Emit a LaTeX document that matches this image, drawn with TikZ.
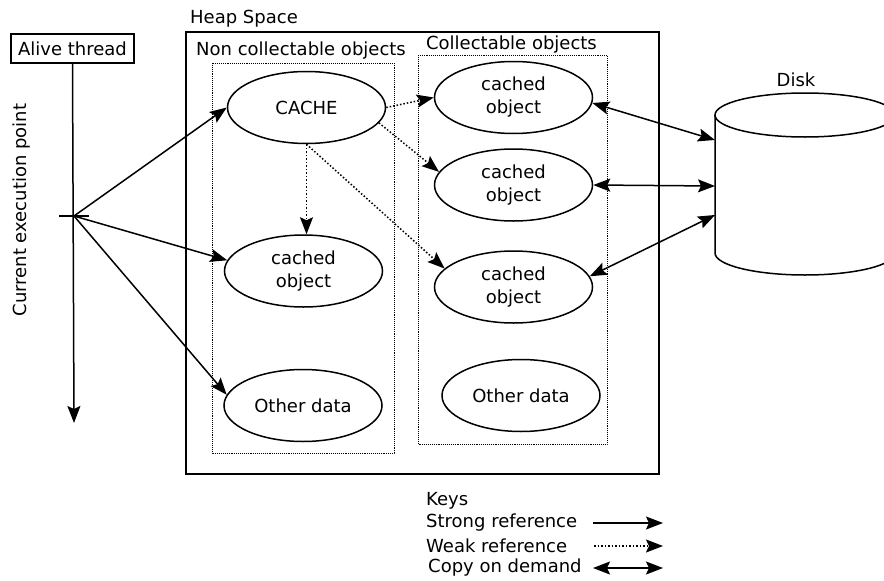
\documentclass[tikz,border=0pt]{standalone}
\usepackage{fontspec}
\setmainfont{DejaVu Sans}
\usetikzlibrary{shapes.geometric,arrows.meta}
\begin{document}
\begin{tikzpicture}[x=1pt,y=-1pt,
  every node/.style={font=\fontsize{18}{23}\selectfont},
  tip/.tip={Stealth[length=17pt,width=13pt,inset=3pt]},
  obj/.style={ellipse,draw,line width=1.5pt,minimum width=158pt,minimum height=72pt,inner sep=0pt,align=center},
  strong/.style={line width=1.5pt,-tip},
  weak/.style={line width=1.5pt,dotted,-tip},
  copyarrow/.style={line width=1.5pt,tip-tip},
  region/.style={draw,line width=0.9pt,densely dotted},
  lbl/.style={inner sep=0pt}]
\useasboundingbox (0,0) rectangle (884,581);

% thread
\node[draw,line width=1.5pt,minimum width=123pt,minimum height=29pt,inner sep=0pt] (alive) at (72.5,48.5) {Alive thread};
\coordinate (tend) at (74,423);
\coordinate (cep) at (74,216);
\coordinate (tickl) at (59,216);
\coordinate (tickr) at (89,216);
\draw[strong] (alive.south) -- (tend);
\draw[line width=1.5pt] (tickl) -- (tickr);
\node[lbl,rotate=90] (cepl) at (22,210) {Current execution point};

% heap
\node[lbl,anchor=west] (heapl) at (190,19) {Heap Space};
\draw[line width=1.5pt] (186,32) rectangle (659,474);
\node[lbl] (ncl) at (301,51) {Non collectable objects};
\draw[region] (212,63) rectangle (394,453);
\node[lbl] (cl) at (511.5,45) {Collectable objects};
\draw[region] (418,55) rectangle (607,444);

% objects
\node[obj] (cache) at (306.5,107.5) {CACHE};
\node[obj] (nc) at (303.5,271) {cached\\object};
\node[obj] (nod) at (303,405.5) {Other data};
\node[obj] (c1) at (513.5,97.5) {cached\\object};
\node[obj] (c2) at (513.5,185) {cached\\object};
\node[obj] (c3) at (513.5,287) {cached\\object};
\node[obj] (cod) at (521,395.5) {Other data};

% disk
\begin{scope}
\clip (0,0) rectangle (884,581);
\draw[line width=1.5pt] (805,115) ellipse [x radius=90, y radius=22];
\draw[line width=1.5pt] (715,115) -- (715,253) arc[start angle=180,end angle=360,x radius=90,y radius=-22] -- (895,115);
\end{scope}
\node[lbl] (diskl) at (796,80) {Disk};
\coordinate (d1) at (715,140);
\coordinate (d2) at (715,186);
\coordinate (d3) at (715,215);

% strong references
\draw[strong] (cep) -- (cache.west);
\draw[strong] (cep) -- (nc.172);
\draw[strong] (cep) -- (nod.172);

% weak references
\draw[weak] (cache.east) -- (c1.west);
\draw[weak] (cache.-12) -- (c2.170);
\draw[weak] (cache.south) -- (cache.south |- nc.north);
\draw[weak] (cache.south) -- (c3.165);

% copy on demand
\draw[copyarrow] (c1.-4) -- (d1);
\draw[copyarrow] (c2.east) -- (d2);
\draw[copyarrow] (c3.8) -- (d3);

% keys
\node[lbl,anchor=west] (keys) at (426,501) {Keys};
\node[lbl,anchor=west] (ks) at (426,523) {Strong reference};
\node[lbl,anchor=west] (kw) at (426,546) {Weak reference};
\node[lbl,anchor=west] (kc) at (428,568) {Copy on demand};
\coordinate (ks1) at (593,523);
\coordinate (ks2) at (663,523);
\coordinate (kw1) at (594,546);
\coordinate (kw2) at (663,546);
\coordinate (kc1) at (593,568);
\coordinate (kc2) at (663,568);
\draw[strong] (ks1) -- (ks2);
\draw[weak] (kw1) -- (kw2);
\draw[copyarrow] (kc1) -- (kc2);
\end{tikzpicture}
\end{document}
